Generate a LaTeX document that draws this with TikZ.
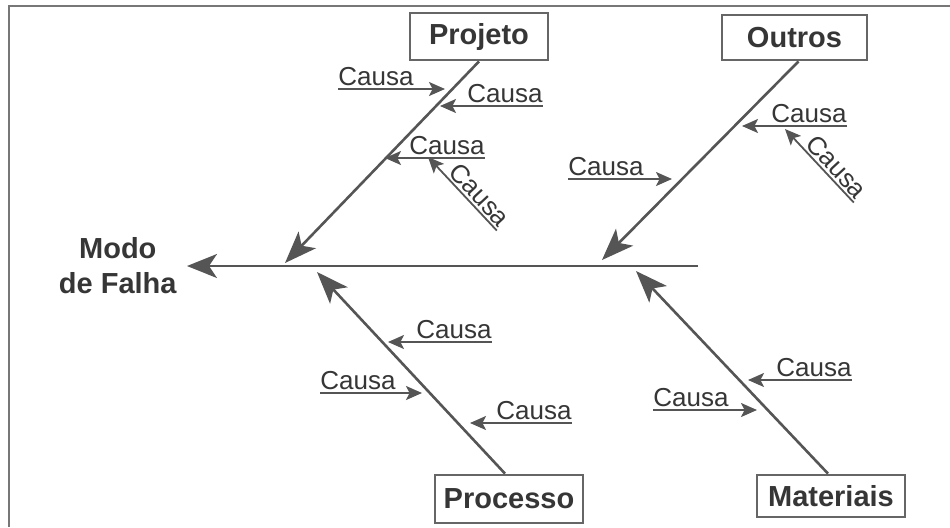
\documentclass[tikz,border=0pt]{standalone}
\usepackage{fontspec}
\setmainfont{Liberation Sans}
\usetikzlibrary{arrows.meta}

\definecolor{inkgray}{HTML}{363636}
\definecolor{linegray}{HTML}{555555}
\definecolor{boxgray}{HTML}{666666}
\definecolor{framegray}{HTML}{777777}

\tikzset{
  catbox/.style={draw=boxgray, line width=1.4pt, text=inkgray, inner sep=0pt,
    font=\bfseries\fontsize{14.5}{17}\selectfont},
  effect/.style={text=inkgray, align=center, inner xsep=5pt,
    font=\bfseries\fontsize{14.5}{17.5}\selectfont},
  causa/.style={text=inkgray, inner xsep=0pt, inner ysep=1.2pt,
    font=\fontsize{13}{15}\selectfont},
  spine/.style={draw=linegray, line width=1.2pt,
    -{Stealth[length=15pt, width=12pt, inset=4pt]}},
  bone/.style={draw=linegray, line width=1.3pt,
    -{Stealth[length=16pt, width=12pt, inset=4pt]}},
  cause/.style={draw=linegray, line width=0.9pt,
    -{Stealth[length=8pt, width=7pt, inset=1.8pt]}},
}

\begin{document}
\begin{tikzpicture}[x=0.5pt, y=-0.5pt]
  \useasboundingbox (0,0) rectangle (950,527);
  \fill[white] (0,0) rectangle (950,527);
  % page frame (top and left edges)
  \draw[framegray, line width=1pt] (950,6) -- (9,6) -- (9,527);

  % effect and spine
  \node[effect, anchor=east] (modo) at (187,266) {Modo\\de Falha};
  \coordinate (spineR) at (698,266);
  \draw[spine] (spineR) -- (modo.east);

  % category boxes
  \node[catbox, minimum width=69pt, minimum height=23.5pt] (projeto) at (479,36.5) {Projeto};
  \node[catbox, minimum width=72.5pt, minimum height=22.5pt] (outros) at (794.5,37.5) {Outros};
  \node[catbox, minimum width=74pt, minimum height=24pt] (processo) at (509,499) {Processo};
  \node[catbox, minimum width=74pt, minimum height=21pt] (materiais) at (831,496) {Materiais};

  % main bones
  \coordinate (tProjeto) at (285,263);
  \coordinate (tOutros) at (602,260);
  \coordinate (tProcesso) at (317,272);
  \coordinate (tMateriais) at (636,271);
  \draw[bone] (projeto.south) -- (tProjeto);
  \draw[bone] ([xshift=2pt]outros.south) -- (tOutros);
  \draw[bone] ([xshift=-2pt]processo.north) -- (tProcesso);
  \draw[bone] ([xshift=-1.5pt]materiais.north) -- (tMateriais);

  % causes on Projeto
  \node[causa, anchor=south west] (c1) at (338,89) {Causa};
  \coordinate (c1t) at (445,89);
  \draw[cause] (c1.south west) -- (c1t);
  \node[causa, anchor=south east] (c2) at (543,106) {Causa};
  \coordinate (c2t) at (440,106);
  \draw[cause] (c2.south east) -- (c2t);
  \node[causa, anchor=south east] (c3) at (485,158) {Causa};
  \coordinate (c3t) at (385,158);
  \draw[cause] (c3.south east) -- (c3t);
  \node[causa, anchor=south west, rotate=-47] (c4) at (445,175) {Causa};
  \coordinate (c4t) at (428,157);
  \draw[cause] (c4.south east) -- (c4t);

  % causes on Outros
  \node[causa, anchor=south west, rotate=-47] (c6) at (802,147) {Causa};
  \coordinate (c6t) at (785,129);
  \draw[cause] (c6.south east) -- (c6t);
  \node[causa, anchor=south east] (c5) at (847,126) {Causa};
  \coordinate (c5t) at (742,126);
  \draw[cause] (c5.south east) -- (c5t);
  \node[causa, anchor=south west] (c7) at (568,179) {Causa};
  \coordinate (c7t) at (672,179);
  \draw[cause] (c7.south west) -- (c7t);

  % causes on Processo
  \node[causa, anchor=south east] (c8) at (492,342) {Causa};
  \coordinate (c8t) at (388,342);
  \draw[cause] (c8.south east) -- (c8t);
  \node[causa, anchor=south west] (c9) at (320,393) {Causa};
  \coordinate (c9t) at (422,393);
  \draw[cause] (c9.south west) -- (c9t);
  \node[causa, anchor=south east] (c10) at (572,423) {Causa};
  \coordinate (c10t) at (470,423);
  \draw[cause] (c10.south east) -- (c10t);

  % causes on Materiais
  \node[causa, anchor=south east] (c11) at (852,380) {Causa};
  \coordinate (c11t) at (748,380);
  \draw[cause] (c11.south east) -- (c11t);
  \node[causa, anchor=south west] (c12) at (653,410) {Causa};
  \coordinate (c12t) at (757,410);
  \draw[cause] (c12.south west) -- (c12t);
\end{tikzpicture}
\end{document}
